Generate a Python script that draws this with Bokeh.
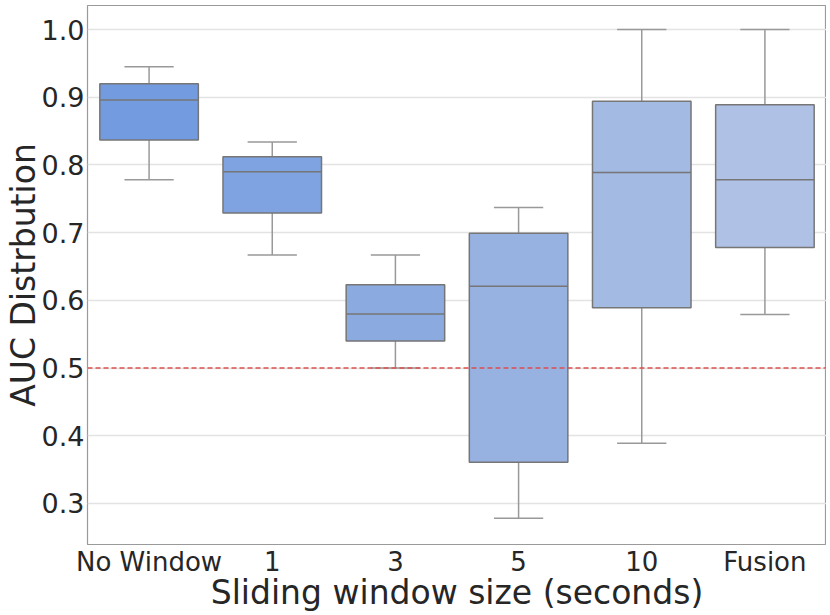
from bokeh.plotting import figure
from bokeh.models import FactorRange, Range1d, Span, ColumnDataSource, PrintfTickFormatter
from bokeh.transform import dodge
from bokeh.embed import file_html
from bokeh.resources import INLINE

categories = ["No Window", "1", "3", "5", "10", "Fusion"]
whisker_low = [0.778, 0.667, 0.500, 0.278, 0.389, 0.579]
q1 = [0.837, 0.729, 0.540, 0.361, 0.589, 0.678]
median = [0.896, 0.790, 0.580, 0.621, 0.789, 0.778]
q3 = [0.920, 0.812, 0.623, 0.699, 0.894, 0.889]
whisker_high = [0.945, 0.834, 0.667, 0.737, 1.000, 1.000]
box_colors = ["#739BE0", "#7FA3E0", "#8BABE0", "#97B1E1", "#A3BAE3", "#AFC2E6"]
y_ticks = [0.3, 0.4, 0.5, 0.6, 0.7, 0.8, 0.9, 1.0]
chance_level = 0.5
x_title = "Sliding window size (seconds)"
y_title = "AUC Distrbution"

FONT = "DejaVu Sans"
TXT = "#262626"
EDGE = "#767676"
WHISK = "#999999"

src = ColumnDataSource(dict(cat=categories, lo=whisker_low, q1=q1, med=median,
                            q3=q3, hi=whisker_high, color=box_colors))

p = figure(x_range=FactorRange(*categories), y_range=Range1d(0.2394, 1.0355),
           width=826, height=614, output_backend="svg", toolbar_location=None,
           min_border_left=0, min_border_right=0, min_border_top=5, min_border_bottom=0)

p.background_fill_color = "white"
p.outline_line_color = "#9a9a9a"
p.outline_line_width = 1.2

# grid
p.xgrid.grid_line_color = None
p.ygrid.grid_line_color = "#e3e3e3"
p.ygrid.grid_line_width = 1.3
p.yaxis.ticker = y_ticks
p.yaxis.formatter = PrintfTickFormatter(format="%.1f")

# whiskers
p.segment(x0="cat", y0="q3", x1="cat", y1="hi", source=src, line_color=WHISK, line_width=1.5)
p.segment(x0="cat", y0="lo", x1="cat", y1="q1", source=src, line_color=WHISK, line_width=1.5)
p.segment(x0=dodge("cat", -0.2, range=p.x_range), y0="hi",
          x1=dodge("cat", 0.2, range=p.x_range), y1="hi", source=src,
          line_color=WHISK, line_width=1.5)
p.segment(x0=dodge("cat", -0.2, range=p.x_range), y0="lo",
          x1=dodge("cat", 0.2, range=p.x_range), y1="lo", source=src,
          line_color=WHISK, line_width=1.5)

# boxes
p.vbar(x="cat", top="q3", bottom="q1", width=0.8, source=src,
       fill_color="color", line_color=EDGE, line_width=1.5)
p.segment(x0=dodge("cat", -0.4, range=p.x_range), y0="med",
          x1=dodge("cat", 0.4, range=p.x_range), y1="med", source=src,
          line_color=EDGE, line_width=1.5)

# chance line
p.add_layout(Span(location=chance_level, dimension="width", line_color="#dd4f4f",
                  line_dash="5 3", line_width=1.5))

# axes
for ax in (p.xaxis, p.yaxis):
    ax.axis_line_color = None
    ax.major_tick_line_color = None
    ax.minor_tick_line_color = None
    ax.major_tick_out = 0
    ax.major_tick_in = 0
    ax.major_label_text_font = FONT
    ax.major_label_text_color = TXT
    ax.axis_label_text_font = FONT
    ax.axis_label_text_color = TXT
    ax.axis_label_text_font_style = "normal"
    ax.axis_label_text_font_size = "33px"

p.yaxis.axis_label = y_title
p.yaxis.major_label_text_font_size = "27px"
p.yaxis.major_label_standoff = 3
p.yaxis.axis_label_standoff = -4

p.xaxis.axis_label = x_title
p.xaxis.major_label_text_font_size = "26px"
p.xaxis.major_label_standoff = 2
p.xaxis.axis_label_standoff = -7

open("out.html", "w").write(file_html(p, INLINE))
